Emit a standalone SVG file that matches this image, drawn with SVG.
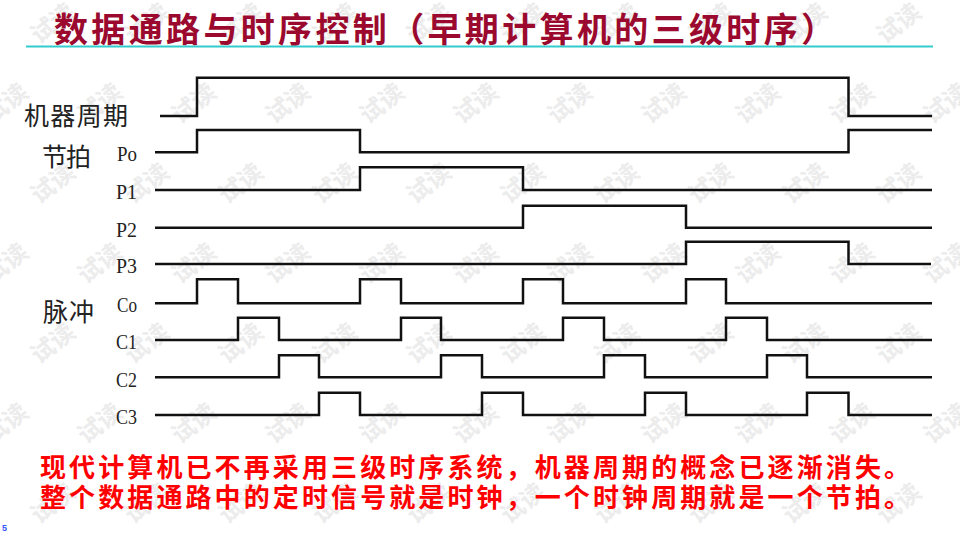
<svg xmlns="http://www.w3.org/2000/svg" xmlns:xlink="http://www.w3.org/1999/xlink" width="960" height="540" viewBox="0 0 960 540">
<style>
.wm{font-family:"Noto Sans CJK SC","Noto Sans",sans-serif;font-size:24px;fill:#ececec;text-anchor:middle;font-weight:bold}
.title{font-family:"Noto Sans CJK SC",sans-serif;font-size:34px;fill:#9b0a2e;font-weight:bold}
.cjk{font-family:"Noto Sans CJK SC",sans-serif;font-size:25px;fill:#222}
.sig{font-family:"Liberation Serif","Noto Serif",serif;font-size:20px;fill:#222}
.note{font-family:"Noto Sans CJK SC",sans-serif;font-size:26px;fill:#ff0000;font-weight:bold}
.wave{fill:none;stroke:#111;stroke-width:2.5;stroke-linejoin:miter;stroke-linecap:butt}
</style>
<defs>
<text id="wm" class="wm" transform="rotate(-38)">试读</text>
</defs>
<rect width="960" height="540" fill="#ffffff"/>
<g id="watermark">
<use xlink:href="#wm" transform="translate(58,30)"/><use xlink:href="#wm" transform="translate(152,30)"/><use xlink:href="#wm" transform="translate(246,30)"/><use xlink:href="#wm" transform="translate(340,30)"/><use xlink:href="#wm" transform="translate(434,30)"/><use xlink:href="#wm" transform="translate(528,30)"/><use xlink:href="#wm" transform="translate(622,30)"/><use xlink:href="#wm" transform="translate(716,30)"/><use xlink:href="#wm" transform="translate(810,30)"/><use xlink:href="#wm" transform="translate(904,30)"/>
<use xlink:href="#wm" transform="translate(11,110)"/><use xlink:href="#wm" transform="translate(105,110)"/><use xlink:href="#wm" transform="translate(199,110)"/><use xlink:href="#wm" transform="translate(293,110)"/><use xlink:href="#wm" transform="translate(387,110)"/><use xlink:href="#wm" transform="translate(481,110)"/><use xlink:href="#wm" transform="translate(575,110)"/><use xlink:href="#wm" transform="translate(669,110)"/><use xlink:href="#wm" transform="translate(763,110)"/><use xlink:href="#wm" transform="translate(857,110)"/><use xlink:href="#wm" transform="translate(951,110)"/>
<use xlink:href="#wm" transform="translate(58,190)"/><use xlink:href="#wm" transform="translate(152,190)"/><use xlink:href="#wm" transform="translate(246,190)"/><use xlink:href="#wm" transform="translate(340,190)"/><use xlink:href="#wm" transform="translate(434,190)"/><use xlink:href="#wm" transform="translate(528,190)"/><use xlink:href="#wm" transform="translate(622,190)"/><use xlink:href="#wm" transform="translate(716,190)"/><use xlink:href="#wm" transform="translate(810,190)"/><use xlink:href="#wm" transform="translate(904,190)"/>
<use xlink:href="#wm" transform="translate(11,270)"/><use xlink:href="#wm" transform="translate(105,270)"/><use xlink:href="#wm" transform="translate(199,270)"/><use xlink:href="#wm" transform="translate(293,270)"/><use xlink:href="#wm" transform="translate(387,270)"/><use xlink:href="#wm" transform="translate(481,270)"/><use xlink:href="#wm" transform="translate(575,270)"/><use xlink:href="#wm" transform="translate(669,270)"/><use xlink:href="#wm" transform="translate(763,270)"/><use xlink:href="#wm" transform="translate(857,270)"/><use xlink:href="#wm" transform="translate(951,270)"/>
<use xlink:href="#wm" transform="translate(58,350)"/><use xlink:href="#wm" transform="translate(152,350)"/><use xlink:href="#wm" transform="translate(246,350)"/><use xlink:href="#wm" transform="translate(340,350)"/><use xlink:href="#wm" transform="translate(434,350)"/><use xlink:href="#wm" transform="translate(528,350)"/><use xlink:href="#wm" transform="translate(622,350)"/><use xlink:href="#wm" transform="translate(716,350)"/><use xlink:href="#wm" transform="translate(810,350)"/><use xlink:href="#wm" transform="translate(904,350)"/>
<use xlink:href="#wm" transform="translate(11,430)"/><use xlink:href="#wm" transform="translate(105,430)"/><use xlink:href="#wm" transform="translate(199,430)"/><use xlink:href="#wm" transform="translate(293,430)"/><use xlink:href="#wm" transform="translate(387,430)"/><use xlink:href="#wm" transform="translate(481,430)"/><use xlink:href="#wm" transform="translate(575,430)"/><use xlink:href="#wm" transform="translate(669,430)"/><use xlink:href="#wm" transform="translate(763,430)"/><use xlink:href="#wm" transform="translate(857,430)"/><use xlink:href="#wm" transform="translate(951,430)"/>
<use xlink:href="#wm" transform="translate(58,510)"/><use xlink:href="#wm" transform="translate(152,510)"/><use xlink:href="#wm" transform="translate(246,510)"/><use xlink:href="#wm" transform="translate(340,510)"/><use xlink:href="#wm" transform="translate(434,510)"/><use xlink:href="#wm" transform="translate(528,510)"/><use xlink:href="#wm" transform="translate(622,510)"/><use xlink:href="#wm" transform="translate(716,510)"/><use xlink:href="#wm" transform="translate(810,510)"/><use xlink:href="#wm" transform="translate(904,510)"/>
</g>
<g id="title">
<text class="title" x="54" y="42" textLength="781" lengthAdjust="spacing">数据通路与时序控制（早期计算机的三级时序）</text>
<line x1="26" y1="46.5" x2="933" y2="46.5" stroke="#33cccc" stroke-width="2"/>
</g>
<g id="labels">
<text class="cjk" x="24" y="124.5" textLength="104" lengthAdjust="spacing">机器周期</text>
<text class="cjk" x="42" y="165.5" textLength="49" lengthAdjust="spacing">节拍</text>
<text class="cjk" x="43" y="320.5" textLength="51" lengthAdjust="spacing">脉冲</text>
<text class="sig" x="117" y="161" textLength="20" lengthAdjust="spacingAndGlyphs">Po</text>
<text class="sig" x="116" y="199" textLength="21" lengthAdjust="spacingAndGlyphs">P1</text>
<text class="sig" x="116" y="236.5" textLength="21" lengthAdjust="spacingAndGlyphs">P2</text>
<text class="sig" x="116" y="273" textLength="21" lengthAdjust="spacingAndGlyphs">P3</text>
<text class="sig" x="117" y="312" textLength="20" lengthAdjust="spacingAndGlyphs">Co</text>
<text class="sig" x="116" y="348.5" textLength="21" lengthAdjust="spacingAndGlyphs">C1</text>
<text class="sig" x="116" y="386.5" textLength="21" lengthAdjust="spacingAndGlyphs">C2</text>
<text class="sig" x="116" y="424" textLength="21" lengthAdjust="spacingAndGlyphs">C3</text>
</g>
<g id="waveforms">
<polyline id="mc" class="wave" points="160,116 197,116 197,77.7 848.5,77.7 848.5,116 932,116"/>
<polyline id="p0" class="wave" points="155,152.3 197,152.3 197,130 360,130 360,152.3 848.5,152.3 848.5,130 932,130"/>
<polyline id="p1" class="wave" points="155,190 360,190 360,167.3 523,167.3 523,190 932,190"/>
<polyline id="p2" class="wave" points="155,227.7 523,227.7 523,205.7 686,205.7 686,227.7 932,227.7"/>
<polyline id="p3" class="wave" points="155,264 686,264 686,241.7 848.5,241.7 848.5,264 931,264"/>
<polyline id="c0" class="wave" points="155,303.3 197,303.3 197,279.3 238,279.3 238,303.3 360,303.3 360,279.3 401,279.3 401,303.3 523,303.3 523,279.3 563,279.3 563,303.3 686,303.3 686,279.3 726,279.3 726,303.3 932,303.3"/>
<polyline id="c1" class="wave" points="155,340 238,340 238,317.7 279,317.7 279,340 401,340 401,317.7 441,317.7 441,340 563,340 563,317.7 604,317.7 604,340 726,340 726,317.7 767,317.7 767,340 932,340"/>
<polyline id="c2" class="wave" points="155,377.3 279,377.3 279,355.3 319,355.3 319,377.3 441,377.3 441,355.3 482,355.3 482,377.3 604,377.3 604,355.3 645,355.3 645,377.3 767,377.3 767,355.3 807,355.3 807,377.3 932,377.3"/>
<polyline id="c3" class="wave" points="155,415 319,415 319,392.7 360,392.7 360,415 482,415 482,392.7 523,392.7 523,415 645,415 645,392.7 686,392.7 686,415 807,415 807,392.7 848.5,392.7 848.5,415 932,415"/>
</g>
<g id="notes">
<text class="note" x="40" y="477" textLength="870" lengthAdjust="spacing">现代计算机已不再采用三级时序系统，机器周期的概念已逐渐消失。</text>
<text class="note" x="40" y="507" textLength="870" lengthAdjust="spacing">整个数据通路中的定时信号就是时钟，一个时钟周期就是一个节拍。</text>
<text x="2" y="531" font-family="Liberation Sans, sans-serif" font-size="9" font-weight="bold" fill="#3355ff">5</text>
</g>
</svg>
